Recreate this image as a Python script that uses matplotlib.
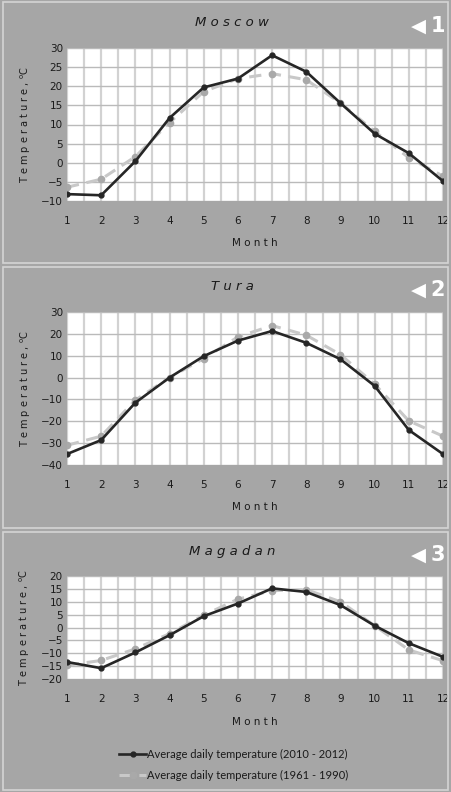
import numpy as np
import matplotlib.pyplot as plt
from matplotlib.patches import Rectangle
from matplotlib.lines import Line2D

months = list(range(1, 13))

cities = ["Moscow", "Tura", "Magadan"]
recent_label = "Average daily temperature (2010 - 2012)"
normal_label = "Average daily temperature (1961 - 1990)"

# 2010-2012
moscow_recent = [-8.2, -8.5, 0.4, 11.7, 19.7, 22.0, 28.1, 23.8, 15.6, 7.6, 2.5, -4.8]
tura_recent = [-35.0, -28.6, -11.5, 0.0, 9.8, 16.9, 21.3, 15.9, 8.4, -3.8, -24.0, -35.0]
magadan_recent = [-13.4, -15.8, -9.7, -3.0, 4.4, 9.3, 15.2, 13.8, 8.7, 0.7, -6.1, -11.4]

# 1961-1990
moscow_normal = [-6.4, -4.3, 1.6, 10.5, 18.6, 22.0, 23.3, 21.7, 15.6, 8.2, 1.3, -3.5]
tura_normal = [-31.0, -26.8, -10.3, 0.0, 8.7, 18.6, 23.8, 19.4, 10.5, -3.0, -19.8, -26.8]
magadan_normal = [-14.7, -12.8, -8.3, -2.4, 4.8, 11.0, 14.3, 14.7, 10.0, 0.7, -8.7, -12.9]

y_ranges = [(-10, 30, 5), (-40, 30, 10), (-20, 20, 5)]

W, H = 452, 792
bg = "#a6a6a6"
fig = plt.figure(figsize=(W / 100, H / 100), dpi=100)
fig.patch.set_facecolor(bg)

def px_axes(x0, y0, x1, y1):
    return fig.add_axes([x0 / W, 1 - y1 / H, (x1 - x0) / W, (y1 - y0) / H])

# panel boxes: (top, bottom), plot area (top, bottom), title y, month y
panels = [
    (2, 263, 48, 201, 23, 243),
    (267, 528, 312, 465, 287, 507),
    (532, 790, 576, 679, 552, 722),
]
recent = [moscow_recent, tura_recent, magadan_recent]
normal = [moscow_normal, tura_normal, magadan_normal]

def spaced(s):
    return " ".join(s)

for i, (top, bot, ptop, pbot, ty, my) in enumerate(panels):
    fig.patches.append(Rectangle((3 / W, 1 - bot / H), 445 / W, (bot - top) / H,
                                 transform=fig.transFigure, facecolor="none",
                                 edgecolor="#d4d4d4", lw=1.2))
    ax = px_axes(67, ptop, 443, pbot)
    ax.set_facecolor("white")
    lo, hi, step = y_ranges[i]
    ax.set_ylim(lo, hi)
    ax.set_xlim(1, 12)
    ax.set_yticks(np.arange(lo, hi + 1, step))
    ax.set_xticks(months)
    ax.set_xticks(np.arange(1.5, 12, 1), minor=True)
    ax.grid(True, which="both", axis="x", color="#d2d2d2", lw=1.6)
    ax.grid(True, which="major", axis="y", color="#bababa", lw=1.0)
    ax.set_axisbelow(True)
    for sp in ax.spines.values():
        sp.set_visible(False)
    ax.tick_params(which="both", length=0, labelsize=7.5, colors="#1a1a1a")
    ax.tick_params(axis="x", pad=11)
    ax.tick_params(axis="y", pad=3)

    ax.plot(months, normal[i], color="#c8c8c8", lw=2.2, ls=(0, (4, 2.5)),
            marker="o", ms=4.5, mfc="#a9a9a9", mec="#a9a9a9", label=normal_label,
            zorder=3)
    ax.plot(months, recent[i], color="#262626", lw=1.9, marker="o", ms=3.5,
            mfc="#262626", mec="#262626", label=recent_label, zorder=4)

    ax.set_ylabel(spaced("Temperature,") + r" $^{\mathrm{o}}$C", fontsize=7,
                  color="#1a1a1a", labelpad=6)
    fig.text(232 / W, 1 - ty / H, spaced(cities[i]), ha="center", va="center",
             fontsize=9.5, style="italic", color="#1a1a1a")
    fig.text(255 / W, 1 - my / H, spaced("Month"), ha="center", va="center",
             fontsize=7.5, color="#1a1a1a")
    fig.text(418 / W, 1 - (ty + 3) / H, "\u25C0", ha="center", va="center",
             fontsize=14, color="white")
    fig.text(438 / W, 1 - (ty + 3) / H, str(i + 1), ha="center", va="center",
             fontsize=15, fontweight="bold", color="white")

handles = [Line2D([], [], color="#262626", lw=1.9, marker="o", ms=3.5),
           Line2D([], [], color="#c8c8c8", lw=2.2, ls=(0, (4, 2.5)), marker="o",
                  ms=4.5, mfc="#a9a9a9", mec="#a9a9a9")]
fig.legend(handles, [recent_label, normal_label], loc="center",
           bbox_to_anchor=(234 / W, 1 - 765 / H), frameon=False,
           prop={"family": "Lato", "size": 8}, labelspacing=0.95,
           handlelength=2.4, handletextpad=0.1, labelcolor="#1a1a1a")

fig.savefig("out.png", dpi=100, facecolor=bg)
